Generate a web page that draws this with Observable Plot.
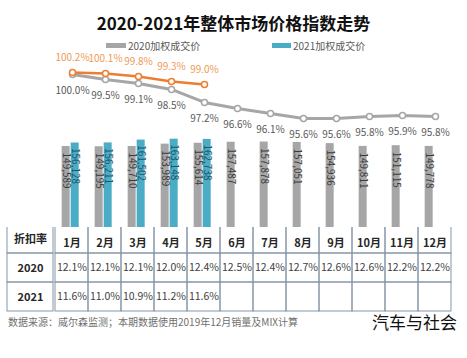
<!DOCTYPE html>
<html><head><meta charset="utf-8">
<script src="https://cdn.jsdelivr.net/npm/d3@7"></script>
<script src="https://cdn.jsdelivr.net/npm/@observablehq/plot@0.6"></script>
<style>
body{margin:0;background:#fff;font-family:"Noto Sans CJK SC","Noto Sans",sans-serif;}
#root{position:relative;width:467px;height:358px;overflow:hidden;background:#fff}
.abs{position:absolute;white-space:nowrap}
</style></head><body><div id="root"></div>
<script>
// ---- data ----
const titleText = "2020-2021年整体市场价格指数走势";
const months = ["1月","2月","3月","4月","5月","6月","7月","8月","9月","10月","11月","12月"];
const seriesNames = ["2020","2021"];
const legendLabels = ["2020加权成交价","2021加权成交价"];
const price2020 = [149589,149195,149710,153989,155614,157487,157878,157051,154936,149811,151115,149778];
const price2021 = [156128,156211,161502,163148,162738];
const index2020 = [100.0,99.5,99.1,98.5,97.2,96.6,96.1,95.6,95.6,95.8,95.9,95.8];
const index2021 = [100.2,100.1,99.8,99.3,99.0];
const tableHeader = "折扣率";
const discount2020 = [12.1,12.1,12.1,12.0,12.4,12.5,12.4,12.7,12.6,12.6,12.2,12.2];
const discount2021 = [11.6,11.0,10.9,11.2,11.6];
const sourceText = "数据来源：威尔森监测；本期数据使用2019年12月销量及MIX计算";
const brandText = "汽车与社会";

// ---- colors ----
const GRAY = "#a6a6a6", BLUE = "#4bacc6", ORANGE = "#ed7d31", GRID = "#8596a8";
const FONT = '"Noto Sans CJK SC",sans-serif';
const root = document.getElementById("root");
function addDiv(text, css){const d=document.createElement("div");d.className="abs";d.textContent=text;d.style.cssText+=css;root.appendChild(d);return d;}
function place(el, left, top){el.style.position="absolute";el.style.left=left+"px";el.style.top=top+"px";root.appendChild(el);}

// title
addDiv(titleText, "left:0;width:467px;text-align:center;top:12px;font-size:17px;line-height:21px;font-weight:700;color:#111;");
// legend
addDiv("", `left:106px;top:42.5px;width:20px;height:5px;background:${GRAY};`);
addDiv(legendLabels[0], "left:128px;top:37.5px;font-size:10px;line-height:15px;color:#595959;");
addDiv("", `left:272px;top:42.5px;width:19px;height:5px;background:${BLUE};`);
addDiv(legendLabels[1], "left:293px;top:37.5px;font-size:10px;line-height:15px;color:#595959;");

// ---- bars ----
const bars = [];
months.forEach((m,i)=>{
  bars.push({month:m, series:seriesNames[0], value:price2020[i]});
  if (i < price2021.length) bars.push({month:m, series:seriesNames[1], value:price2021[i]});
});
const fmt = d3.format(",");
const ML = 53.33, MR = 13.67;
const barPlot = Plot.plot({
  width:467, height:177, marginLeft:ML, marginRight:MR, marginTop:0, marginBottom:0,
  fx:{domain:months, padding:0, axis:null},
  x:{domain:seriesNames, paddingInner:0.1, paddingOuter:0.77, align:0.4, axis:null},
  y:{domain:[0,327000], axis:null},
  color:{domain:seriesNames, range:[GRAY, BLUE]},
  style:{background:"transparent", overflow:"visible", fontFamily:FONT},
  marks:[
    Plot.barY(bars, {fx:"month", x:"series", y:"value", fill:"series"}),
    Plot.text(bars.filter(d=>d.series===seriesNames[0]), {fx:"month", x:"series", y:"value", text:d=>fmt(d.value), rotate:90, textAnchor:"start", lineAnchor:"middle", dy:6, fontSize:10, fill:"#3a3a3a"}),
    Plot.text(bars.filter(d=>d.series===seriesNames[1]), {fx:"month", x:"series", y:"value", text:d=>fmt(d.value), rotate:90, textAnchor:"start", lineAnchor:"middle", dy:5, fontSize:10, fill:"#1f5566"})
  ]
});
place(barPlot, 0, 50);

// ---- lines ----
const line20 = index2020.map((v,i)=>({month:months[i], v}));
const line21 = index2021.map((v,i)=>({month:months[i], v}));
const pct = d=>d.v.toFixed(1)+"%";
const linePlot = Plot.plot({
  width:467, height:177, marginLeft:ML, marginRight:MR, marginTop:0, marginBottom:0,
  x:{type:"point", domain:months, padding:0.5, axis:null},
  y:{domain:[95,101], range:[73.9,13.9], axis:null},
  style:{background:"transparent", overflow:"visible", fontFamily:FONT},
  marks:[
    Plot.line(line20, {x:"month", y:"v", stroke:GRAY, strokeWidth:3}),
    Plot.dot(line20, {x:"month", y:"v", r:3, fill:"white", stroke:GRAY, strokeWidth:1.5}),
    Plot.text(line20, {x:"month", y:"v", text:pct, dy:16, fontSize:10, fill:"#595959"}),
    Plot.line(line21, {x:"month", y:"v", stroke:ORANGE, strokeWidth:2.5}),
    Plot.dot(line21, {x:"month", y:"v", r:3, fill:"white", stroke:ORANGE, strokeWidth:1.5}),
    Plot.text(line21, {x:"month", y:"v", text:pct, dy:-15, fontSize:10, fill:"#ef9a55"})
  ]
});
place(linePlot, 0, 50);

// ---- table ----
const rows = ["header", seriesNames[0], seriesNames[1]];
const cells = [];
months.forEach(m=>rows.forEach(r=>cells.push({month:m,row:r})));
const vals = [];
discount2020.forEach((v,i)=>vals.push({month:months[i], row:seriesNames[0], v}));
discount2021.forEach((v,i)=>vals.push({month:months[i], row:seriesNames[1], v}));
const headerCells = months.map(m=>({month:m, row:rows[0]}));
const labelCells = rows.map(r=>({col:tableHeader, row:r, label: r===rows[0] ? tableHeader : r}));
const yTable = {domain:rows, range:[-3.5,85], padding:0, axis:null};
const tableStyle = {background:"transparent", overflow:"hidden", fontFamily:FONT};
const tableRight = Plot.plot({
  width:467, height:86, marginLeft:ML, marginRight:MR, marginTop:0, marginBottom:0,
  x:{domain:months, padding:0, axis:null}, y:yTable, style:tableStyle,
  marks:[
    Plot.cell(cells, {x:"month", y:"row", fill:"none", stroke:GRID, strokeWidth:1}),
    Plot.text(headerCells, {x:"month", y:"row", text:"month", fontWeight:"bold", fontSize:11, dy:4, fill:"#262626"}),
    Plot.text(vals, {x:"month", y:"row", text:d=>d.v.toFixed(1)+"%", fontSize:10.5, fill:"#404040"})
  ]
});
place(tableRight, 0, 227);
const tableLeft = Plot.plot({
  width:60, height:86, marginLeft:6.5, marginRight:60-ML, marginTop:0, marginBottom:0,
  x:{domain:[tableHeader], padding:0, axis:null}, y:yTable, style:tableStyle,
  marks:[
    Plot.cell(labelCells, {x:"col", y:"row", fill:"none", stroke:GRID, strokeWidth:1}),
    Plot.text(labelCells, {x:"col", y:"row", text:"label", fontWeight:"bold", fontSize:11, fill:"#262626"})
  ]
});
place(tableLeft, 0, 227);

// footer
addDiv(sourceText, "left:8px;top:315px;font-size:10px;line-height:14px;color:#6f6f6f;");
addDiv(brandText, "right:10px;top:311px;font-size:17px;line-height:22px;color:#111;");
</script></body></html>
